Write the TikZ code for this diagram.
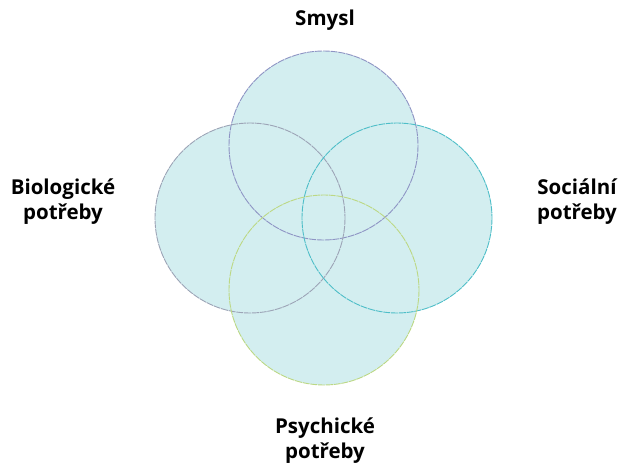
\documentclass[tikz,border=0pt]{standalone}
\usepackage{fontspec}
\setmainfont{Open Sans}
\definecolor{fillc}{HTML}{D3EEF0}
\definecolor{ctop}{HTML}{8E94C4}
\definecolor{cleft}{HTML}{9CA4B6}
\definecolor{cright}{HTML}{4EBEC8}
\definecolor{cbot}{HTML}{BCD884}
\tikzset{
  lbl/.style={font=\fontsize{20.5}{25}\selectfont\bfseries, align=center, text=black, inner sep=0pt},
  ring/.style={line width=0.9pt, dash pattern=on 7pt off 0.8pt}
}
\begin{document}
\begin{tikzpicture}[x=1pt,y=-1pt]
\useasboundingbox (0,0) rectangle (621,468);
\fill[fillc] (323.5,145.5) circle (94.5);
\fill[fillc] (250,218) circle (95);
\fill[fillc] (397,218) circle (95);
\fill[fillc] (324,290) circle (95);
\draw[ring,ctop] (323.5,145.5) circle (94.5);
\draw[ring,cleft] (250,218) circle (95);
\draw[ring,cright] (397,218) circle (95);
\draw[ring,cbot] (324,290) circle (95);
\node[lbl] (smysl) at (325,20) {Smysl};
\node[lbl] (bio) at (63,202) {Biologické\\potřeby};
\node[lbl] (soc) at (577,202) {Sociální\\potřeby};
\node[lbl] (psy) at (325,441) {Psychické\\potřeby};
\end{tikzpicture}
\end{document}
